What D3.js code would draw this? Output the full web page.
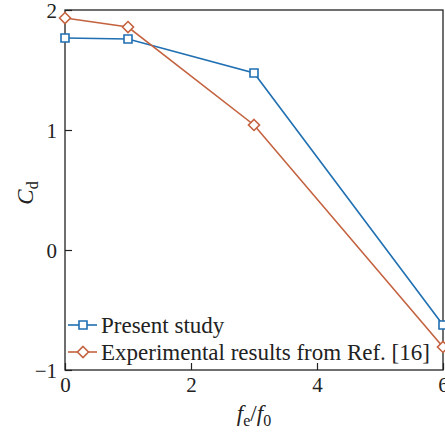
<!DOCTYPE html>
<html>
<head>
<meta charset="utf-8">
<script src="https://cdn.jsdelivr.net/npm/d3@7"></script>
<style>
  html, body { margin: 0; padding: 0; background: #fff; }
  svg { display: block; }
  text { font-family: "Liberation Serif", "DejaVu Serif", serif; fill: #222; }
</style>
</head>
<body>
<svg id="chart" width="445" height="434"></svg>
<script>
// Frequency ratio f_e / f_0
const freqRatio = [0, 1, 3, 6];
// Drag coefficient, present study
const cdPresent = [1.767, 1.758, 1.475, -0.625];
// Drag coefficient, experiment (Ref. [16])
const cdExperiment = [1.933, 1.858, 1.042, -0.808];
const xTicks = [0, 2, 4, 6];
const yTicks = [-1, 0, 1, 2];
const seriesNames = ["Present study", "Experimental results from Ref. [16]"];

const blue = "#1f6fb2";
const orange = "#c4623f";

const svg = d3.select("#chart");
const m = { left: 65, right: 443, top: 10, bottom: 370 };

const x = d3.scaleLinear().domain([0, 6]).range([m.left, m.right]);
const y = d3.scaleLinear().domain([-1, 2]).range([m.bottom, m.top]);

// plot frame
svg.append("rect")
  .attr("x", m.left).attr("y", m.top)
  .attr("width", m.right - m.left).attr("height", m.bottom - m.top)
  .attr("fill", "none").attr("stroke", "#222").attr("stroke-width", 1.3);

// axes with inward ticks
const xAxis = svg.append("g").attr("transform", `translate(0,${m.bottom})`)
  .call(d3.axisBottom(x).tickValues(xTicks).tickSize(-7).tickPadding(7).tickFormat(d3.format("d")));
const yAxis = svg.append("g").attr("transform", `translate(${m.left},0)`)
  .call(d3.axisLeft(y).tickValues(yTicks).tickSize(-7).tickPadding(8)
    .tickFormat(d => d < 0 ? "\u2212" + Math.abs(d) : d));
[xAxis, yAxis].forEach(g => {
  g.select(".domain").remove();
  g.selectAll(".tick line").attr("stroke", "#222").attr("stroke-width", 1.2);
  g.selectAll(".tick text").style("font-size", "21px").attr("fill", "#222");
});
yAxis.selectAll(".tick text").attr("dy", "0.35em");

const line = d3.line().x(d => x(d[0])).y(d => y(d[1]));

function drawSeries(vals, color, shape) {
  const pts = freqRatio.map((f, i) => [f, vals[i]]);
  svg.append("path").datum(pts)
    .attr("d", line).attr("fill", "none")
    .attr("stroke", color).attr("stroke-width", 1.6);
  svg.selectAll(null).data(pts).enter().append("path")
    .attr("transform", d => `translate(${x(d[0])},${y(d[1])})`)
    .attr("d", shape)
    .attr("fill", "#fff").attr("stroke", color).attr("stroke-width", 1.6);
}
const square = "M-4,-4H4V4H-4Z";
const diamond = "M0,-5.5L5.5,0L0,5.5L-5.5,0Z";

drawSeries(cdPresent, blue, square);
drawSeries(cdExperiment, orange, diamond);

// legend
const legend = svg.append("g");
[[blue, square], [orange, diamond]].forEach(([c, s], i) => {
  const ly = 325 + i * 27;
  legend.append("line").attr("x1", 68).attr("x2", 97).attr("y1", ly).attr("y2", ly)
    .attr("stroke", c).attr("stroke-width", 1.6);
  legend.append("path").attr("transform", `translate(83,${ly})`).attr("d", s)
    .attr("fill", "#fff").attr("stroke", c).attr("stroke-width", 1.6);
  legend.append("text").attr("x", 101).attr("y", ly).attr("dy", "0.35em")
    .style("font-size", "23px").text(seriesNames[i]);
});

// axis titles
const xt = svg.append("text").attr("x", 254).attr("y", 421)
  .attr("text-anchor", "middle").style("font-size", "23px").style("font-style", "italic");
xt.append("tspan").text("f");
xt.append("tspan").attr("dy", 5).style("font-size", "16px").style("font-style", "normal").text("e");
xt.append("tspan").attr("dy", -5).style("font-style", "normal").text("/");
xt.append("tspan").text("f");
xt.append("tspan").attr("dy", 5).style("font-size", "16px").style("font-style", "normal").text("0");

const yt = svg.append("text")
  .attr("transform", "translate(33,193) rotate(-90)")
  .attr("text-anchor", "middle").style("font-size", "23px").style("font-style", "italic");
yt.append("tspan").text("C");
yt.append("tspan").attr("dy", 5).style("font-size", "16px").style("font-style", "normal").text("d");
</script>
</body>
</html>
